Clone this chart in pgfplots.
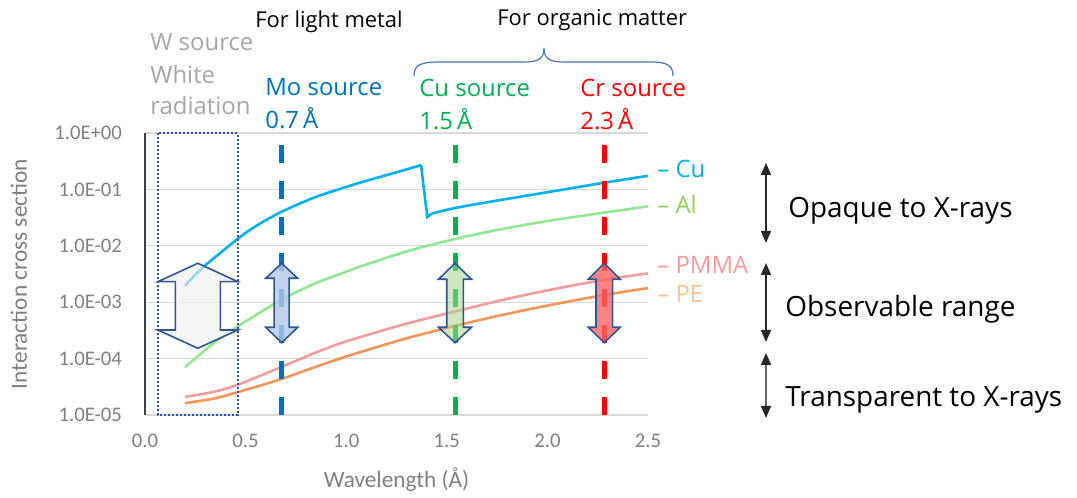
\documentclass[border=0pt]{standalone}
\usepackage{fontspec}
\setmainfont{Open Sans}
\newfontfamily\carlito{Carlito}
\usepackage{pgfplots}
\pgfplotsset{compat=1.18}
\usetikzlibrary{arrows.meta}
\definecolor{cucol}{HTML}{00B0F0}
\definecolor{alcol}{HTML}{90E890}
\definecolor{allab}{HTML}{92D050}
\definecolor{pmmacol}{HTML}{F29C9C}
\definecolor{pmmalab}{HTML}{FF9999}
\definecolor{pecol}{HTML}{F4955A}
\definecolor{pelab}{HTML}{FFC28A}
\definecolor{mocol}{HTML}{0070C0}
\definecolor{cusrc}{HTML}{00B050}
\definecolor{crsrc}{HTML}{FF0000}
\definecolor{wcol}{HTML}{A6A6A6}
\definecolor{boxblue}{HTML}{2F5597}
\definecolor{arrowblue}{HTML}{2F5597}
\definecolor{bracecol}{HTML}{4472C4}
\definecolor{tickgray}{HTML}{7F7F7F}
\definecolor{gridgray}{HTML}{D9D9D9}
\definecolor{axisgray}{HTML}{404040}
\definecolor{bigfill}{HTML}{EFEFEF}
\definecolor{mofill}{HTML}{B4C7E7}
\definecolor{cufill}{HTML}{A9D18E}
\definecolor{crfill}{HTML}{FF6464}
\newcommand{\blockarrow}[8]{%
 \draw[#8] (#1,#2) -- ({#1+#6},#3) -- ({#1+#7},#3) -- ({#1+#7},#4) -- ({#1+#6},#4) -- (#1,#5) -- ({#1-#6},#4) -- ({#1-#7},#4) -- ({#1-#7},#3) -- ({#1-#6},#3) -- cycle;}
\begin{document}
\begin{tikzpicture}
\begin{scope}[shift={(-72.5bp,207.5bp)},x=0.5bp,y=-0.5bp]
\path[use as bounding box] (0,0) rectangle (1077,495);
\end{scope}
\begin{axis}[
  scale only axis, width=251.5bp, height=141bp,
  xmin=0, xmax=2.5, ymode=log, ymin=1e-5, ymax=1,
  axis line style={draw=none},
  major tick length=0pt, tick style={draw=none},
  ymajorgrids, grid style={gridgray, line width=0.6bp},
  xtick={0,0.5,1,1.5,2,2.5}, xticklabels={0.0,0.5,1.0,1.5,2.0,2.5},
  ytick={1e-5,1e-4,1e-3,1e-2,1e-1,1},
  yticklabels={1.0E-05,1.0E-04,1.0E-03,1.0E-02,1.0E-01,1.0E+00},
  ticklabel style={font=\carlito\fontsize{10.4}{12}\selectfont, text=tickgray},
  yticklabel style={xshift=-8bp},
  xticklabel style={yshift=-6bp},
  xlabel={Wavelength (Å)}, ylabel={Interaction cross section},
  label style={font=\carlito\fontsize{11.7}{13}\selectfont, text=tickgray},
  xlabel style={at={(axis description cs:0.5,0)}, anchor=base, yshift=-36bp},
  ylabel style={at={(axis description cs:-0.2346,0.5)}, anchor=base},
  clip=false,
]
\draw[axisgray, line width=0.75bp] (axis cs:0,1e-5) -- (axis cs:0,1);
% Cu
\addplot[cucol, line width=1.3bp, smooth] coordinates {
(0.199,1.95e-3) (0.273,3.72e-3) (0.373,7.41e-3) (0.456,1.29e-2) (0.538,2.09e-2) (0.671,3.89e-2)
(0.837,7.08e-2) (0.969,0.102) (1.069,0.132) (1.168,0.166) (1.27,0.211) (1.358,0.260) (1.372,0.268)};
\addplot[cucol, line width=1.3bp] coordinates {(1.372,0.268) (1.403,0.0324) (1.425,0.0372)};
\addplot[cucol, line width=1.3bp, smooth] coordinates {
(1.425,0.0372) (1.541,0.0468) (1.764,0.0646) (2.00,0.0891) (2.286,0.132) (2.50,0.174)};
% Al
\addplot[alcol, line width=1.3bp, smooth] coordinates {
(0.199,7.08e-5) (0.34,1.86e-4) (0.456,3.63e-4) (0.671,1.07e-3) (0.837,2.09e-3) (0.969,3.16e-3)
(1.069,4.27e-3) (1.30,7.94e-3) (1.541,1.32e-2) (1.764,1.95e-2) (2.00,2.75e-2) (2.286,3.89e-2) (2.50,5.01e-2)};
% PMMA
\addplot[pmmacol, line width=1.3bp, smooth] coordinates {
(0.199,2.09e-5) (0.34,2.57e-5) (0.456,3.39e-5) (0.671,6.92e-5) (0.837,1.23e-4) (0.969,1.86e-4)
(1.069,2.40e-4) (1.30,4.17e-4) (1.541,6.84e-4) (1.764,1.07e-3) (2.00,1.62e-3) (2.286,2.51e-3) (2.50,3.24e-3)};
% PE
\addplot[pecol, line width=1.3bp, smooth] coordinates {
(0.199,1.62e-5) (0.34,1.95e-5) (0.456,2.51e-5) (0.671,4.27e-5) (0.837,6.92e-5) (0.969,1.0e-4)
(1.069,1.30e-4) (1.30,2.29e-4) (1.541,3.80e-4) (1.764,5.82e-4) (2.00,8.71e-4) (2.286,1.35e-3) (2.50,1.78e-3)};
% source lines
\addplot[mocol, line width=2.5bp, dash pattern=on 9bp off 9bp] coordinates {(0.679,0.6125) (0.679,1e-5)};
\addplot[cusrc, line width=2.5bp, dash pattern=on 9bp off 9bp] coordinates {(1.541,0.6125) (1.541,1e-5)};
\addplot[crsrc, line width=2.5bp, dash pattern=on 9bp off 9bp] coordinates {(2.283,0.6125) (2.283,1e-5)};
\end{axis}
\begin{scope}[shift={(-72.5bp,207.5bp)},x=0.5bp,y=-0.5bp]
% block arrows
\blockarrow{197.85}{263.3}{281.7}{330}{348.3}{40}{22.5}{arrowblue, line width=0.8bp, fill=bigfill, fill opacity=0.65}
\blockarrow{281.7}{263.3}{278.3}{327.3}{342.7}{16}{7.5}{arrowblue, line width=0.8bp, fill=mofill, fill opacity=0.8}
\blockarrow{455}{263.3}{279.3}{327.3}{342.7}{16.5}{8.3}{arrowblue, line width=0.8bp, fill=cufill, fill opacity=0.55}
\blockarrow{604.3}{263.3}{279.3}{327.3}{342.7}{16}{8.3}{arrowblue, line width=0.8bp, fill=crfill, fill opacity=0.8}
% dotted box
\draw[boxblue, line width=1bp, dash pattern=on 1bp off 1bp] (158,133) rectangle (237.7,415);
% brace
\draw[bracecol, line width=0.6bp] (414,76) .. controls (414,65) and (420,62) .. (440,62) -- (524,62)
  .. controls (538,62) and (544,59) .. (544,48) .. controls (544,59) and (550,62) .. (564,62) -- (650,62)
  .. controls (667,62) and (673,65) .. (673,76);
% top texts
\begin{scope}[every node/.style={inner sep=0pt, anchor=base west, font=\fontsize{12}{14}\selectfont}]
\node[font=\fontsize{11}{13}\selectfont] at (255,28) {For light metal};
\node[font=\fontsize{11}{13}\selectfont] at (497,26) {For organic matter};
\node[text=wcol] at (150,50.7) {W source};
\node[text=wcol] at (150,83.3) {White};
\node[text=wcol] at (150,115) {radiation};
\node[text=mocol] at (265,96) {Mo source};
\node[text=mocol] at (265,129) {0.7\,Å};
\node[text=cusrc] at (419,97) {Cu source};
\node[text=cusrc] at (419,130) {1.5\,Å};
\node[text=crsrc] at (580,97) {Cr source};
\node[text=crsrc] at (580,130) {2.3\,Å};
\node[text=cucol] at (657,177.3) {– Cu};
\node[text=allab] at (657,213.3) {– Al};
\node[text=pmmalab] at (657,273.3) {– PMMA};
\node[text=pelab] at (657,302.7) {– PE};
\end{scope}
\begin{scope}[every node/.style={inner sep=0pt, anchor=base west, font=\fontsize{14}{16}\selectfont}]
\node at (788,217.3) {Opaque to X-rays};
\node at (785,316.7) {Observable range};
\node at (785,406.7) {Transparent to X-rays};
\end{scope}
\draw[black!85, line width=0.7bp, {Triangle[length=6bp,width=5bp]}-{Triangle[length=6bp,width=5bp]}] (766,163) -- (766,243);
\draw[black!85, line width=0.7bp, {Triangle[length=6bp,width=5bp]}-{Triangle[length=6bp,width=5bp]}] (766,263) -- (766,342);
\draw[black!60, line width=0.7bp, {Triangle[length=6bp,width=5bp,black!85]}-{Triangle[length=6bp,width=5bp,black!85]}] (766,353) -- (766,418);
\end{scope}
\end{tikzpicture}
\end{document}
